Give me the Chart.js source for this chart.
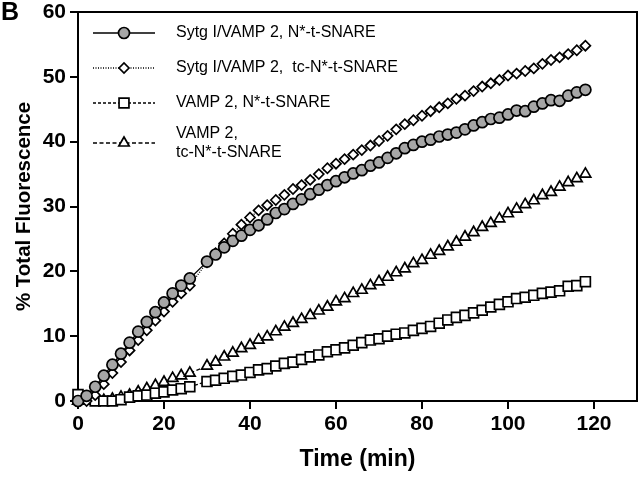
<!DOCTYPE html>
<html>
<head>
<meta charset="utf-8">
<script src="https://cdn.jsdelivr.net/npm/chart.js@4/dist/chart.umd.min.js"></script>
<style>
  html, body { margin: 0; padding: 0; background: #fff; }
  #wrap { position: relative; width: 640px; height: 477px; }
</style>
</head>
<body>
<div id="wrap"><canvas id="c" width="640" height="477"></canvas></div>
<script>
// ---- data ----
const timeMin = [0,2,4,6,8,10,12,14,16,18,20,22,24,26,
  30,32,34,36,38,40,42,44,46,48,50,52,54,56,58,60,62,64,66,68,70,72,74,76,78,80,
  82,84,86,88,90,92,94,96,98,100,102,104,106,108,110,112,114,116,118];

const sytgN = [0,0.8,2.2,3.9,5.6,7.3,9.0,10.7,12.2,13.7,15.2,16.6,17.8,18.9,
  21.5,22.6,23.7,24.7,25.5,26.4,27.1,28.0,29.0,29.6,30.4,31.1,31.9,32.6,33.3,33.9,34.5,35.1,35.6,36.3,36.8,37.5,38.2,39.0,39.5,40.0,
  40.3,40.8,41.1,41.4,41.9,42.5,43.0,43.5,43.7,44.2,44.8,44.7,45.4,45.9,46.4,46.3,47.1,47.6,48.0];

const sytgTc = [0,0,0.9,2.6,4.3,6.0,7.8,9.4,10.9,12.4,13.8,15.3,16.6,17.8,
  21.4,22.8,24.3,25.8,27.2,28.3,29.4,30.2,31.0,31.8,32.7,33.3,34.1,35.0,35.9,36.6,37.3,38.0,38.7,39.4,40.1,40.9,41.9,42.7,43.3,44.0,
  44.7,45.3,45.9,46.6,47.1,47.8,48.5,49.0,49.5,50.2,50.5,50.9,51.3,52.0,52.6,53.0,53.5,54.1,54.8];

const vampN = [1.0,0.3,0,0,0,0.2,0.6,0.8,0.9,1.2,1.4,1.7,1.9,2.2,
  3.0,3.2,3.5,3.8,4.0,4.4,4.8,5.0,5.4,5.8,6.0,6.4,6.8,7.1,7.6,7.9,8.2,8.6,9.0,9.4,9.6,10.0,10.3,10.5,10.9,11.2,
  11.5,12.0,12.5,12.9,13.2,13.6,14.0,14.5,14.9,15.3,15.8,16.0,16.3,16.6,16.8,17.0,17.7,17.8,18.4];

const vampTc = [0,0,0,0.1,0.3,0.6,0.9,1.4,1.9,2.4,2.9,3.5,3.9,4.3,
  5.4,6.0,6.8,7.4,8.1,8.6,9.4,9.9,10.7,11.4,12.0,12.6,13.2,13.9,14.5,15.3,15.8,16.6,17.1,17.8,18.4,19.1,19.8,20.4,21.2,21.7,
  22.5,23.1,23.8,24.5,25.3,26.0,26.8,27.4,28.1,28.9,29.6,30.3,30.9,31.7,32.2,33.0,33.7,34.3,35.0];

const seriesLabels = [
  'Sytg I/VAMP 2, N*-t-SNARE',
  'Sytg I/VAMP 2,  tc-N*-t-SNARE',
  'VAMP 2, N*-t-SNARE',
  'VAMP 2,\ntc-N*-t-SNARE'
];
const xTicks = [0,20,40,60,80,100,120];
const yTicks = [0,10,20,30,40,50,60];
const xTitle = 'Time (min)';
const yTitle = '% Total Fluorescence';
const panelLetter = 'B';

// ---- build ----
const pts = arr => timeMin.map((t, i) => ({ x: t, y: arr[i] }));
const styles = [
  { pointStyle: 'circle',   radius: 5.5, fill: '#a6a6a6', dash: [],       lr: 5.5 },
  { pointStyle: 'rectRot',  radius: 5,   fill: '#ffffff', dash: [1, 1.5], lr: 5 },
  { pointStyle: 'rect',     radius: 7,   fill: '#ffffff', dash: [3, 2],   lr: 7 },
  { pointStyle: 'triangle', radius: 6.2, fill: '#ffffff', dash: [4, 2.5], lr: 6 }
];
const seriesData = [sytgN, sytgTc, vampN, vampTc];

const datasets = seriesData.map((arr, i) => ({
  label: seriesLabels[i],
  data: pts(arr),
  showLine: true,
  borderColor: '#000',
  borderWidth: 1.3,
  borderDash: styles[i].dash,
  pointStyle: styles[i].pointStyle,
  pointRadius: styles[i].radius,
  pointBackgroundColor: styles[i].fill,
  pointBorderColor: '#000',
  pointBorderWidth: 1.7,
  clip: false,
  tension: 0
}));

const SANS = '"Liberation Sans", Arial, Helvetica, sans-serif';

const framePlugin = {
  id: 'frameAndLegend',
  afterDraw(chart) {
    const ctx = chart.ctx;
    const a = chart.chartArea;
    ctx.save();
    ctx.strokeStyle = '#000';
    ctx.lineWidth = 2;
    ctx.beginPath();
    ctx.moveTo(a.left - 1, a.top);
    ctx.lineTo(a.right, a.top);
    ctx.lineTo(a.right, a.bottom + 1);
    ctx.stroke();

    ctx.fillStyle = '#000';
    ctx.font = 'bold 25px ' + SANS;
    ctx.textBaseline = 'middle';
    ctx.textAlign = 'left';
    ctx.fillText(panelLetter, 1, 13);

    const rows = [33, 68, 103, 143];
    const x0 = a.left + 15, x1 = a.left + 77, xm = (x0 + x1) / 2, tx = a.left + 98;
    chart.data.datasets.forEach((ds, i) => {
      const y = rows[i];
      ctx.save();
      ctx.strokeStyle = '#000';
      ctx.lineWidth = 1.5;
      ctx.setLineDash(styles[i].dash);
      ctx.beginPath();
      ctx.moveTo(x0, y);
      ctx.lineTo(x1, y);
      ctx.stroke();
      ctx.setLineDash([]);
      ctx.fillStyle = styles[i].fill;
      ctx.strokeStyle = '#000';
      ctx.lineWidth = 1.7;
      Chart.helpers.drawPoint(ctx, { pointStyle: styles[i].pointStyle, radius: styles[i].lr, borderWidth: 1.7, rotation: 0 }, xm, y);
      ctx.restore();
      ctx.fillStyle = '#000';
      ctx.font = '16px ' + SANS;
      ctx.textAlign = 'left';
      ctx.textBaseline = 'middle';
      const lines = ds.label.split('\n');
      if (lines.length === 1) {
        ctx.fillText(lines[0], tx, y);
      } else {
        lines.forEach((ln, k) => ctx.fillText(ln, tx, y - 9.5 + 19 * k));
      }
    });
    ctx.restore();
  }
};

new Chart(document.getElementById('c'), {
  type: 'scatter',
  data: { datasets },
  plugins: [framePlugin],
  options: {
    responsive: false,
    animation: false,
    devicePixelRatio: 1,
    layout: { autoPadding: false, padding: { top: 12, right: 3, left: 0, bottom: 0 } },
    plugins: { legend: { display: false }, tooltip: { enabled: false } },
    scales: {
      x: {
        type: 'linear',
        min: 0, max: 130,
        afterBuildTicks: s => { s.ticks = xTicks.map(v => ({ value: v })); },
        afterFit: s => { s.height = 76; s.paddingLeft = 0; s.paddingRight = 0; },
        grid: { display: true, drawOnChartArea: false, drawTicks: true, tickLength: 8, color: '#000', lineWidth: 2 },
        border: { display: true, color: '#000', width: 2 },
        ticks: { color: '#000', font: { family: SANS, size: 21, weight: 'bold' }, padding: 3, maxRotation: 0 },
        title: { display: true, text: xTitle, color: '#000', font: { family: SANS, size: 23, weight: 'bold' }, padding: { top: 0, bottom: 4 } }
      },
      y: {
        type: 'linear',
        min: 0, max: 60,
        afterBuildTicks: s => { s.ticks = yTicks.map(v => ({ value: v })); },
        afterFit: s => { s.width = 78; s.paddingTop = 0; s.paddingBottom = 0; },
        grid: { display: true, drawOnChartArea: false, drawTicks: true, tickLength: 8, color: '#000', lineWidth: 2 },
        border: { display: true, color: '#000', width: 2 },
        ticks: { color: '#000', font: { family: SANS, size: 21, weight: 'bold' }, padding: 4 },
        title: { display: true, text: yTitle, color: '#000', font: { family: SANS, size: 20.5, weight: 'bold' }, padding: { top: 12, bottom: 0 } }
      }
    }
  }
});
</script>
</body>
</html>
